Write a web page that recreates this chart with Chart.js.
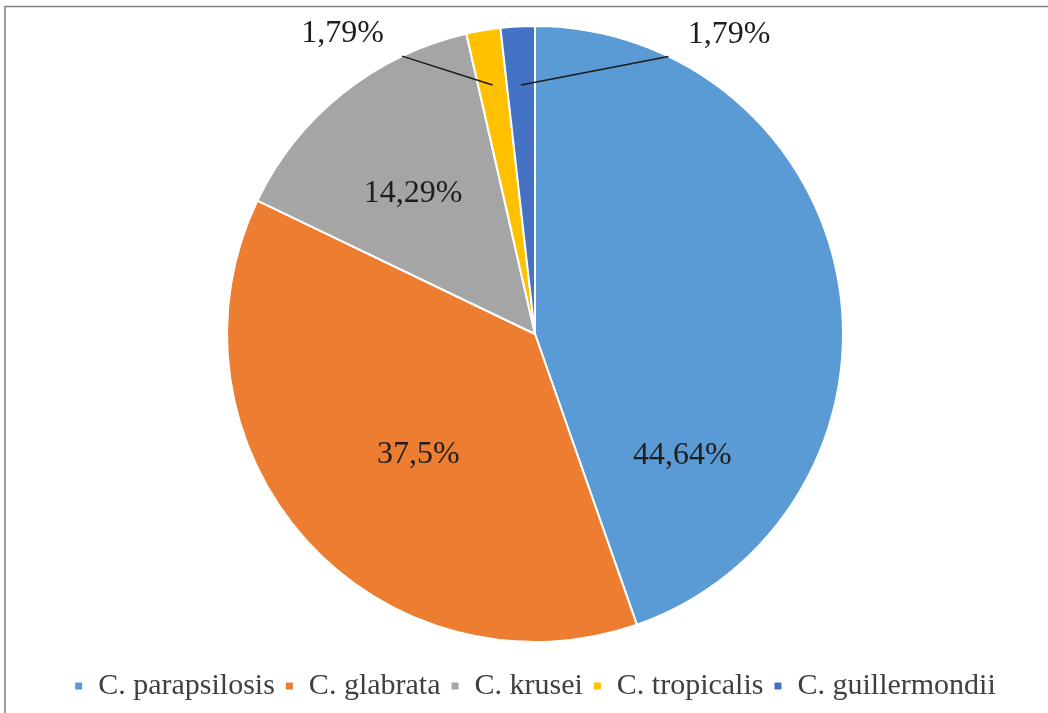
<!DOCTYPE html>
<html>
<head>
<meta charset="utf-8">
<script src="https://cdn.jsdelivr.net/npm/chart.js@4"></script>
<style>
  html, body { margin: 0; padding: 0; background: #ffffff; }
  #wrap { width: 1048px; height: 713px; position: relative; }
</style>
</head>
<body>
<div id="wrap"><canvas id="chart" width="1048" height="713"></canvas></div>
<script>
// Candida species distribution (%)
const species = ['C. parapsilosis', 'C. glabrata', 'C. krusei', 'C. tropicalis', 'C. guillermondii'];
const shares = [44.64, 37.5, 14.29, 1.79, 1.79];
const shareLabels = ['44,64%', '37,5%', '14,29%', '1,79%', '1,79%'];
const sliceColors = ['#5B9BD5', '#ED7D31', '#A5A5A5', '#FFC000', '#4472C4'];

// Label placement relative to each slice: angle shift from the slice's mid-angle (deg)
// and distance as a fraction of the radius; leader lines for the thin slices.
const labelPlacement = [
  { shift: 49.2, dist: 0.62 },
  { shift: -4.2, dist: 0.546 },
  { shift: -2.3, dist: 0.605 },
  { shift: -23.0, dist: 1.158, leader: { inner: 0.82, outerShift: -15.9 } },
  { shift: 36.2, dist: 1.157, leader: { inner: 0.81, outerShift: 28.9 } }
];

const rad = d => d * Math.PI / 180;

const framePlugin = {
  id: 'frame',
  beforeDraw(chart) {
    const ctx = chart.ctx;
    ctx.save();
    ctx.fillStyle = '#ffffff';
    ctx.fillRect(0, 0, chart.width, chart.height);
    ctx.strokeStyle = '#7f7f7f';
    ctx.lineWidth = 1.5;
    ctx.strokeRect(5, 6.5, chart.width + 50, chart.height + 50);
    ctx.restore();
  }
};

const sliceLabels = {
  id: 'sliceLabels',
  afterDatasetsDraw(chart) {
    const ctx = chart.ctx;
    const arcs = chart.getDatasetMeta(0).data;
    ctx.save();
    ctx.font = '32px "Liberation Serif", "Times New Roman", serif';
    ctx.fillStyle = '#1e1e1e';
    ctx.textAlign = 'center';
    ctx.textBaseline = 'middle';
    arcs.forEach((arc, i) => {
      const { x, y, startAngle, endAngle, outerRadius } = arc.getProps(['x', 'y', 'startAngle', 'endAngle', 'outerRadius'], true);
      const mid = (startAngle + endAngle) / 2;
      const p = labelPlacement[i];
      const a = mid + rad(p.shift);
      const lx = x + Math.cos(a) * outerRadius * p.dist;
      const ly = y + Math.sin(a) * outerRadius * p.dist;
      if (p.leader) {
        const oa = mid + rad(p.leader.outerShift);
        ctx.beginPath();
        ctx.moveTo(x + Math.cos(oa) * outerRadius, y + Math.sin(oa) * outerRadius);
        ctx.lineTo(x + Math.cos(mid) * outerRadius * p.leader.inner, y + Math.sin(mid) * outerRadius * p.leader.inner);
        ctx.strokeStyle = '#1a1a1a';
        ctx.lineWidth = 1.5;
        ctx.stroke();
      }
      ctx.fillText(shareLabels[i], lx, ly);
    });
    ctx.restore();
  }
};

new Chart(document.getElementById('chart'), {
  type: 'pie',
  data: {
    labels: species,
    datasets: [{
      data: shares,
      backgroundColor: sliceColors,
      borderColor: '#ffffff',
      borderWidth: 2,
      hoverOffset: 0
    }]
  },
  options: {
    responsive: false,
    animation: false,
    radius: 308,
    layout: { padding: { top: 7, left: 22, right: 0, bottom: 2 } },
    plugins: {
      tooltip: { enabled: false },
      legend: {
        position: 'bottom',
        labels: {
          boxWidth: 9,
          boxHeight: 9,
          padding: 10,
          color: '#404040',
          font: { family: '"Liberation Serif", "Times New Roman", serif', size: 30 }
        }
      }
    }
  },
  plugins: [framePlugin, sliceLabels]
});
</script>
</body>
</html>
